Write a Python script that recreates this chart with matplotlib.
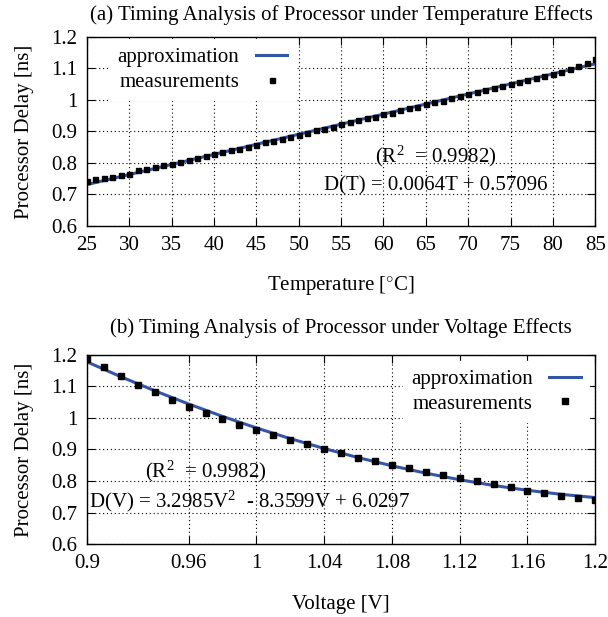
import numpy as np
import matplotlib
matplotlib.use('Agg')
import matplotlib.pyplot as plt

plt.rcParams['font.family'] = ['Liberation Serif', 'DejaVu Serif']
plt.rcParams['mathtext.fontset'] = 'custom'
plt.rcParams['mathtext.rm'] = 'Liberation Serif'
plt.rcParams['mathtext.it'] = 'Liberation Serif:italic'

# (a) temperature
temp = np.arange(25, 86)
temp_meas = [0.741, 0.749, 0.752, 0.756, 0.762, 0.766, 0.776, 0.781, 0.786, 0.794,
             0.798, 0.803, 0.809, 0.815, 0.823, 0.828, 0.834, 0.840, 0.845, 0.851,
             0.858, 0.865, 0.871, 0.876, 0.882, 0.890, 0.896, 0.904, 0.909, 0.915,
             0.923, 0.929, 0.936, 0.942, 0.947, 0.954, 0.960, 0.967, 0.973, 0.979,
             0.987, 0.992, 0.997, 1.005, 1.011, 1.019, 1.025, 1.032, 1.039, 1.044,
             1.052, 1.057, 1.064, 1.070, 1.077, 1.083, 1.090, 1.098, 1.108, 1.117, 1.130]
temp_fit_x = [25, 85]
temp_fit_y = [0.731, 1.115]

# (b) voltage
volt = np.round(np.arange(0.90, 1.2001, 0.01), 2)
volt_meas = [1.187, 1.161, 1.134, 1.105, 1.081, 1.057, 1.036, 1.017, 0.996, 0.978,
             0.962, 0.946, 0.930, 0.916, 0.903, 0.888, 0.874, 0.864, 0.851, 0.841,
             0.829, 0.819, 0.810, 0.800, 0.791, 0.781, 0.770, 0.761, 0.754, 0.745, 0.740]
volt_fit_x = [0.90, 0.92, 0.94, 0.96, 0.98, 1.00, 1.02, 1.04, 1.06, 1.08,
              1.10, 1.12, 1.14, 1.16, 1.18, 1.20]
volt_fit_y = [1.1776, 1.1305, 1.0860, 1.0441, 1.0049, 0.9683, 0.9344, 0.9031,
              0.8744, 0.8484, 0.8250, 0.8042, 0.7861, 0.7707, 0.7578, 0.7476]

temp_ticks = list(range(25, 90, 5))
volt_ticks = [0.9, 0.96, 1, 1.04, 1.08, 1.12, 1.16, 1.2]
volt_ticklabels = ['0.9', '0.96', '1', '1.04', '1.08', '1.12', '1.16', '1.2']
delay_ticks = [0.6, 0.7, 0.8, 0.9, 1.0, 1.1, 1.2]
delay_ticklabels = ['0.6', '0.7', '0.8', '0.9', '1', '1.1', '1.2']

blue = '#3556a8'
fs = 15

fig = plt.figure(figsize=(6.08, 6.17), dpi=100)
ax1 = fig.add_axes([0.143, 0.634, 0.836, 0.306])
ax2 = fig.add_axes([0.143, 0.118, 0.836, 0.307])

def style(ax):
    ax.set_ylim(0.6, 1.2)
    ax.set_yticks(delay_ticks)
    ax.set_yticklabels(delay_ticklabels)
    ax.grid(True, color='black', linestyle=(0, (1, 2.5)), linewidth=0.8)
    ax.tick_params(direction='in', top=True, right=True, length=6, width=0.8,
                   labelsize=fs, pad=7)
    for s in ax.spines.values():
        s.set_linewidth(1.0)
    ax.set_ylabel('Processor Delay [ns]', fontsize=fs, labelpad=12)

ax1.plot(temp_fit_x, temp_fit_y, color=blue, lw=2.2, label='approximation')
ax1.plot(temp, temp_meas, 's', color='black', ms=3.6, label='measurements')
ax1.set_xlim(25, 85)
ax1.set_xticks(temp_ticks)
style(ax1)
ax1.set_xlabel('Temperature [$^{\\circ}$C]', fontsize=fs, labelpad=14)
ax1.set_title('(a) Timing Analysis of Processor under Temperature Effects', fontsize=fs, pad=12)
ax1.legend(loc='upper left', markerfirst=False, fontsize=fs, frameon=True,
           framealpha=1, edgecolor='white', fancybox=False, handlelength=1.5,
           borderaxespad=0.1, labelspacing=0.25, borderpad=0.4, bbox_to_anchor=(0.04, 1.0))
ax1.text(66.2, 0.820, '(R$^{2}$  = 0.9982)', fontsize=fs, ha='center', va='center')
ax1.text(66.2, 0.726, 'D(T) = 0.0064T + 0.57096', fontsize=fs, ha='center', va='center')

ax2.plot(volt_fit_x, volt_fit_y, color=blue, lw=2.2, label='approximation')
ax2.plot(volt, volt_meas, 's', color='black', ms=4.4, label='measurements')
ax2.set_xlim(0.9, 1.2)
ax2.set_xticks(volt_ticks)
ax2.set_xticklabels(volt_ticklabels)
style(ax2)
ax2.set_xlabel('Voltage [V]', fontsize=fs, labelpad=16)
ax2.set_title('(b) Timing Analysis of Processor under Voltage Effects', fontsize=fs, pad=16)
ax2.legend(loc='upper right', markerfirst=False, fontsize=fs, frameon=True,
           framealpha=1, edgecolor='white', fancybox=False, handlelength=1.5,
           borderaxespad=0.3, labelspacing=0.25, borderpad=0.4)
ax2.text(0.970, 0.832, '(R$^{2}$  = 0.9982)', fontsize=fs, ha='center', va='center')
ax2.text(0.901, 0.735, 'D(V) = 3.2985V$^{2}$  - 8.3599V + 6.0297', fontsize=fs, ha='left', va='center')

fig.savefig('out.png', dpi=100)
